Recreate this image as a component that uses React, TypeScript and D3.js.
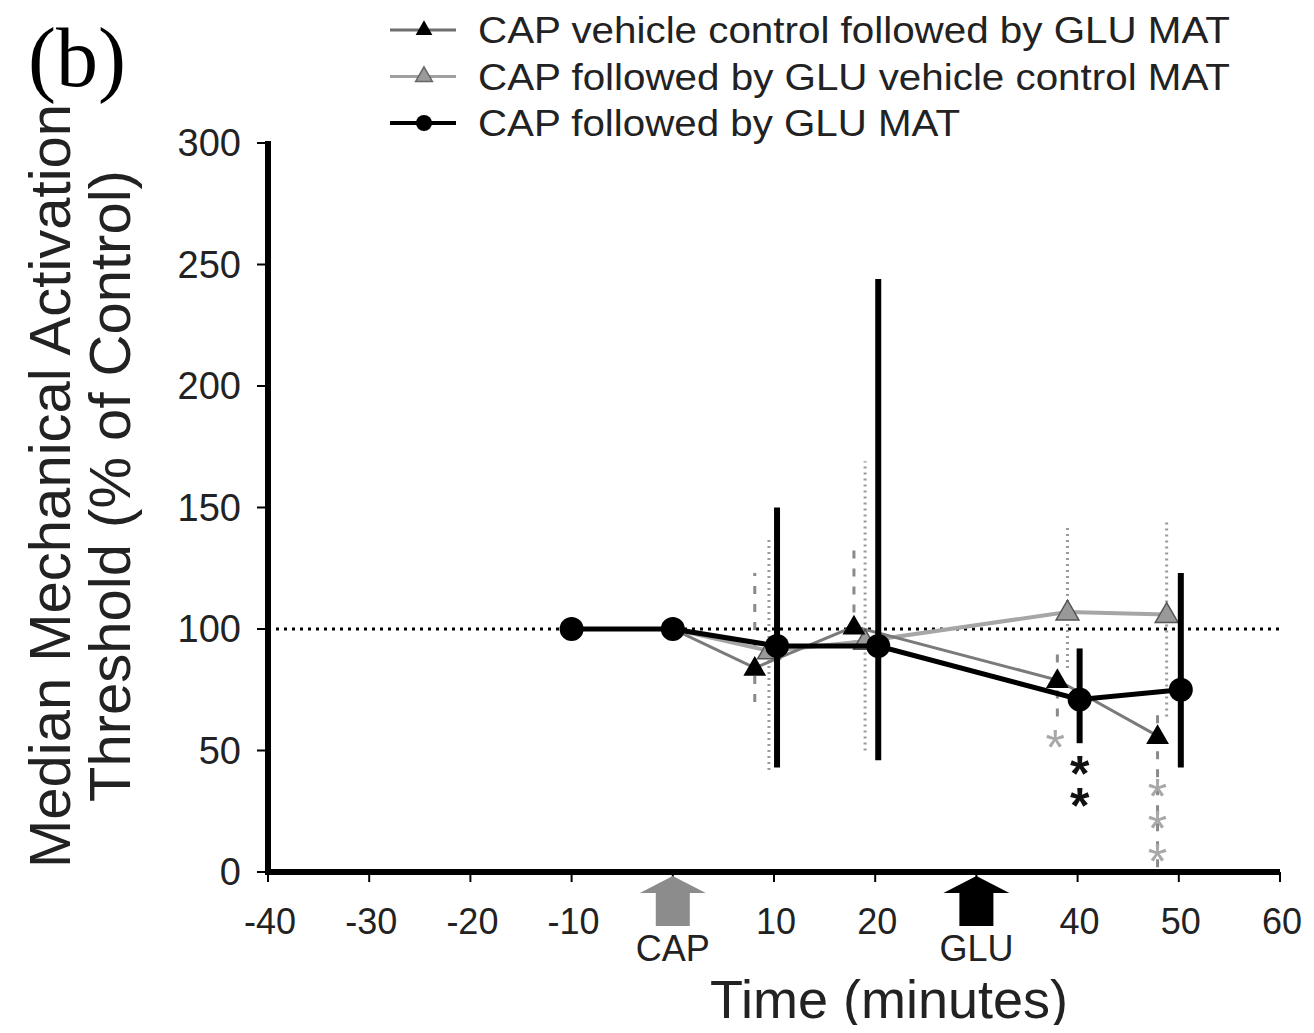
import React from 'react';
import * as d3 from 'd3';

// time (minutes) and median MAT (% of control)
const circleTime = [-10, 0, 10.3, 20.3, 40.2, 50.2];
const circleValue = [100, 100, 93, 93, 71, 75];
const circleLow = [100, 100, 43, 46, 53, 43];
const circleHigh = [100, 100, 150, 244, 92, 123];

const blackTriTime = [-10, 0, 8.1, 17.9, 38, 47.9];
const blackTriValue = [100, 100, 84, 101, 79, 56];
const blackTriLow = [100, 100, 70, 92, 64, 2];
const blackTriHigh = [100, 100, 123, 135, 90, 68];

const grayTriTime = [-10, 0, 9.5, 19, 39, 48.8];
const grayTriValue = [100, 100, 91, 95, 107, 106];
const grayTriLow = [100, 100, 42, 50, 84, 64];
const grayTriHigh = [100, 100, 138, 169, 142, 144];

const xTicks = [-40, -30, -20, -10, 0, 10, 20, 30, 40, 50, 60];
const xTickLabels = ['-40', '-30', '-20', '-10', '', '10', '20', '', '40', '50', '60'];
const yTicks = [0, 50, 100, 150, 200, 250, 300];

const treatments = [
  { label: 'CAP', time: 0, color: '#8c8c8c' },
  { label: 'GLU', time: 30, color: '#000000' },
];

// significance marks (stacked asterisks: time, top value)
const starGroups = [
  { time: 37.8, value: 53.5, marks: '*', color: '#a8a8a8' },
  { time: 40.2, value: 43, marks: '**', color: '#111' },
  { time: 47.9, value: 33.5, marks: '***', color: '#a8a8a8' },
];

const legendLabels = [
  'CAP vehicle control followed by GLU MAT',
  'CAP followed by GLU vehicle control MAT',
  'CAP followed by GLU MAT',
];
const legendWidths = [752, 752, 482];

const W = 1314;
const H = 1033;
const FONT = '"Liberation Sans", Arial, sans-serif';

export default function App() {
  const x = d3.scaleLinear().domain([-40, 60]).range([268, 1280]);
  const y = d3.scaleLinear().domain([0, 300]).range([872, 143]);

  const line = d3
    .line<[number, number]>()
    .x((d) => x(d[0]))
    .y((d) => y(d[1]));

  const pts = (t: number[], v: number[]) => t.map((tt, i) => [tt, v[i]] as [number, number]);

  const tri = (cx: number, cy: number, s: number) =>
    `M${cx},${cy - s * 0.62}L${cx + s * 0.6},${cy + s * 0.42}L${cx - s * 0.6},${cy + s * 0.42}Z`;

  const arrow = (cx: number) => {
    const top = 876;
    const headB = 893;
    const bot = 926;
    return `M${cx},${top}L${cx + 33},${headB}L${cx + 17},${headB}L${cx + 17},${bot}L${cx - 17},${bot}L${cx - 17},${headB}L${cx - 33},${headB}Z`;
  };

  const errBars = (t: number[], lo: number[], hi: number[]) =>
    t.map((tt, i) => ({ x: x(tt), y1: y(lo[i]), y2: y(hi[i]) })).filter((d) => d.y1 !== d.y2);

  return (
    <svg width={W} height={H} style={{ display: 'block', margin: '-8px', background: '#fff' }}>
      {/* panel tag */}
      <text x={28} y={86} fontFamily='"Liberation Serif", "Times New Roman", serif' fontSize={84}>
        (b)
      </text>

      {/* legend */}
      {legendLabels.map((lab, i) => {
        const ly = 30 + i * 46.5;
        const lineColor = i === 0 ? '#6e6e6e' : i === 1 ? '#a0a0a0' : '#000';
        return (
          <g key={lab}>
            <line x1={390} x2={456} y1={ly} y2={ly} stroke={lineColor} strokeWidth={i === 2 ? 4 : 3} />
            {i === 0 && <path d={tri(424, ly - 1, 14)} fill="#000" />}
            {i === 1 && <path d={tri(424, ly - 1, 14)} fill="#9a9a9a" stroke="#666" strokeWidth={1.5} />}
            {i === 2 && <circle cx={424} cy={ly} r={8} fill="#000" />}
            <text
              x={478}
              y={ly + 13}
              fontFamily={FONT}
              fontSize={37}
              fill="#222"
              textLength={legendWidths[i]}
              lengthAdjust="spacingAndGlyphs"
            >
              {lab}
            </text>
          </g>
        );
      })}

      {/* reference line at 100% */}
      <line
        x1={x(-40)}
        x2={x(60)}
        y1={y(100)}
        y2={y(100)}
        stroke="#000"
        strokeWidth={3}
        strokeDasharray="3,5"
      />

      {/* triangle series: error bars, lines, markers */}
      {errBars(grayTriTime, grayTriLow, grayTriHigh).map((d, i) => (
        <line key={'ge' + i} x1={d.x} x2={d.x} y1={d.y1} y2={d.y2} stroke="#9a9a9a" strokeWidth={3} strokeDasharray="2,4" />
      ))}
      {errBars(blackTriTime, blackTriLow, blackTriHigh).map((d, i) => (
        <line key={'be' + i} x1={d.x} x2={d.x} y1={d.y1} y2={d.y2} stroke="#8a8a8a" strokeWidth={3} strokeDasharray="8,10" />
      ))}
      <path d={line(pts(grayTriTime, grayTriValue)) || ''} fill="none" stroke="#a6a6a6" strokeWidth={4} />
      <path d={line(pts(blackTriTime, blackTriValue)) || ''} fill="none" stroke="#7a7a7a" strokeWidth={3} />
      {grayTriTime.slice(2).map((t, i) => (
        <path key={'gt' + i} d={tri(x(t), y(grayTriValue[i + 2]), 19)} fill="#999" stroke="#555" strokeWidth={1.5} />
      ))}
      {blackTriTime.slice(2).map((t, i) => (
        <path key={'bt' + i} d={tri(x(t), y(blackTriValue[i + 2]), 19)} fill="#000" />
      ))}

      {/* CAP followed by GLU */}
      <path d={line(pts(circleTime, circleValue)) || ''} fill="none" stroke="#000" strokeWidth={5} />
      {errBars(circleTime, circleLow, circleHigh).map((d, i) => (
        <line key={'ce' + i} x1={d.x} x2={d.x} y1={d.y1} y2={d.y2} stroke="#000" strokeWidth={6} />
      ))}
      {circleTime.map((t, i) => (
        <circle key={'c' + i} cx={x(t)} cy={y(circleValue[i])} r={12} fill="#000" />
      ))}

      {/* significance: stacked asterisks as one vertical text each */}
      {starGroups.map((s, gi) => (
        <text
          key={'sg' + gi}
          x={x(s.time)}
          y={y(s.value) - 22}
          fontFamily={FONT}
          fontSize={50}
          fontWeight={s.color === '#111' ? 'bold' : 'normal'}
          fill={s.color}
          style={{ writingMode: 'vertical-rl', textOrientation: 'upright', letterSpacing: '-23.5px' }}
        >
          {s.marks}
        </text>
      ))}

      {/* axes */}
      {yTicks.map((t) => (
        <g key={'yt' + t}>
          <line x1={x(-40) - 11} x2={x(-40)} y1={y(t)} y2={y(t)} stroke="#000" strokeWidth={2} />
          <text x={241} y={y(t) + 13} textAnchor="end" fontFamily={FONT} fontSize={38} fill="#222">
            {t}
          </text>
        </g>
      ))}
      {xTicks.map((t, i) => (
        <g key={'xt' + t}>
          <line x1={x(t)} x2={x(t)} y1={y(0)} y2={y(0) + 10} stroke="#000" strokeWidth={2} />
          <text x={x(t) + 2} y={934} textAnchor="middle" fontFamily={FONT} fontSize={36} fill="#222">
            {xTickLabels[i]}
          </text>
        </g>
      ))}
      <line x1={x(-40)} x2={x(-40)} y1={y(300) - 2} y2={y(0) + 3} stroke="#000" strokeWidth={6} />
      <line x1={x(-40) - 3} x2={x(60)} y1={y(0)} y2={y(0)} stroke="#000" strokeWidth={6} />

      {/* treatment arrows */}
      {treatments.map((tr) => (
        <g key={tr.label}>
          <path d={arrow(x(tr.time))} fill={tr.color} />
          <text x={x(tr.time)} y={961} textAnchor="middle" fontFamily={FONT} fontSize={36} fill="#222">
            {tr.label}
          </text>
        </g>
      ))}

      {/* axis titles */}
      <text x={889} y={1018} textAnchor="middle" fontFamily={FONT} fontSize={54} fill="#222">
        Time (minutes)
      </text>
      <g transform="translate(70,486) rotate(-90)">
        <text x={0} y={0} textAnchor="middle" fontFamily={FONT} fontSize={58} fill="#222">
          Median Mechanical Activation
        </text>
      </g>
      <g transform="translate(130,486) rotate(-90)">
        <text x={0} y={0} textAnchor="middle" fontFamily={FONT} fontSize={58} fill="#222">
          Threshold (% of Control)
        </text>
      </g>
    </svg>
  );
}
